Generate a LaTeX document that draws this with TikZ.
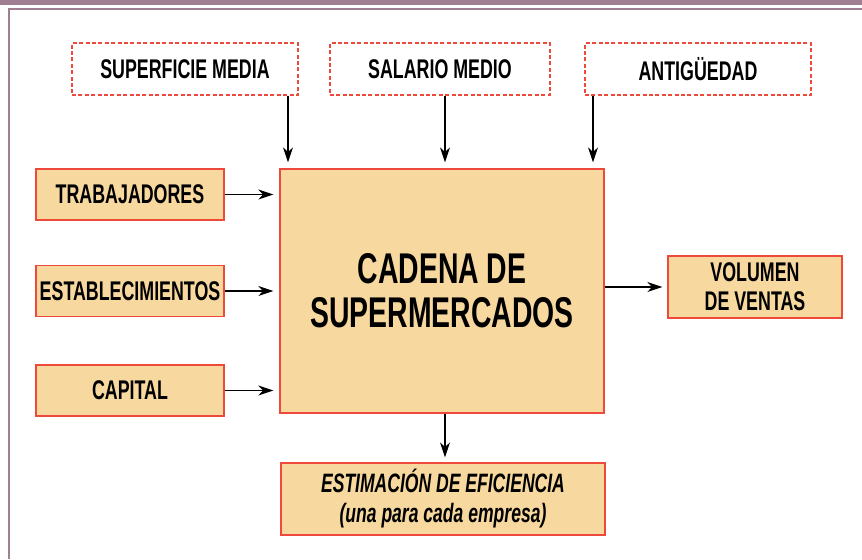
\documentclass[tikz,border=0pt]{standalone}
\usepackage{fontspec}
\usetikzlibrary{arrows.meta}
\newfontfamily\condfont{Liberation Sans}[FakeStretch=0.66]
\definecolor{boxfill}{HTML}{F7D89E}
\definecolor{boxline}{HTML}{EE4A3C}
\definecolor{frameline}{HTML}{A07F93}
\tikzset{x=0.5pt,y=-0.5pt,
         factor/.style={draw=boxline,line width=0.6pt,dashed,dash pattern=on 2pt off 1.2pt,
           fill=white,inner sep=0pt,minimum height=26pt,
           font=\condfont\bfseries\fontsize{13.5}{14.5}\selectfont},
         input/.style={draw=boxline,line width=0.7pt,fill=boxfill,inner sep=0pt,
           minimum width=94pt,minimum height=25.5pt,
           font=\condfont\bfseries\fontsize{13.5}{14.5}\selectfont},
         firm/.style={draw=boxline,line width=0.7pt,fill=boxfill,inner sep=0pt,
           minimum width=162pt,minimum height=122pt,align=center,
           font=\condfont\bfseries\fontsize{21.5}{22}\selectfont},
         flow/.style={line width=0.6pt,-{Stealth[length=7.5pt,width=5pt]}}}

\begin{document}
\begin{tikzpicture}
    \useasboundingbox (0,0) rectangle (862,559);
    % marco
    \fill[frameline] (0,0) rectangle (862,5);
    \draw[frameline,line width=1pt] (8.5,559) -- (8.5,9) -- (862,9);

    \node[factor,minimum width=113pt] (sup) at (185,69) {SUPERFICIE MEDIA};
    \node[factor,minimum width=110pt] (sal) at (440,69) {SALARIO MEDIO};
    \node[factor,minimum width=113pt] (ant) at (698,69) {ANTIGÜEDAD};

    \node[firm] (cad) at (442,291) {CADENA DE\\SUPERMERCADOS};

    \node[input] (trab) at (130,194.5) {TRABAJADORES};
    \node[input] (estab) at (130,291) {ESTABLECIMIENTOS};
    \node[input] (capi) at (130,390.5) {CAPITAL};

    \node[input,minimum width=87pt,minimum height=31pt,align=center] (vol) at (755,287)
        {VOLUMEN\\DE VENTAS};
    \node[input,minimum width=162pt,minimum height=36pt,align=center,
          font=\condfont\bfseries\itshape\fontsize{13.3}{15}\selectfont] (est) at (443,499)
        {ESTIMACIÓN DE EFICIENCIA\\(una para cada empresa)};

    \draw[flow,shorten >=3pt] (sup.south -| 288,0) -- (cad.north -| 288,0);
    \draw[flow,shorten >=3pt] (sal.south -| 445,0) -- (cad.north -| 445,0);
    \draw[flow,shorten >=3pt] (ant.south -| 593,0) -- (cad.north -| 593,0);

    \draw[flow,shorten >=3pt] (trab.east) -- (trab.east -| cad.west);
    \draw[flow,shorten >=3pt] (estab.east) -- (estab.east -| cad.west);
    \draw[flow,shorten >=3pt] (capi.east) -- (capi.east -| cad.west);

    \draw[flow,shorten >=2.5pt] (vol.west -| cad.east) -- (vol.west);
    \draw[flow,shorten >=2.5pt] (cad.south -| 445,0) -- (est.north -| 445,0);
\end{tikzpicture}
\end{document}
